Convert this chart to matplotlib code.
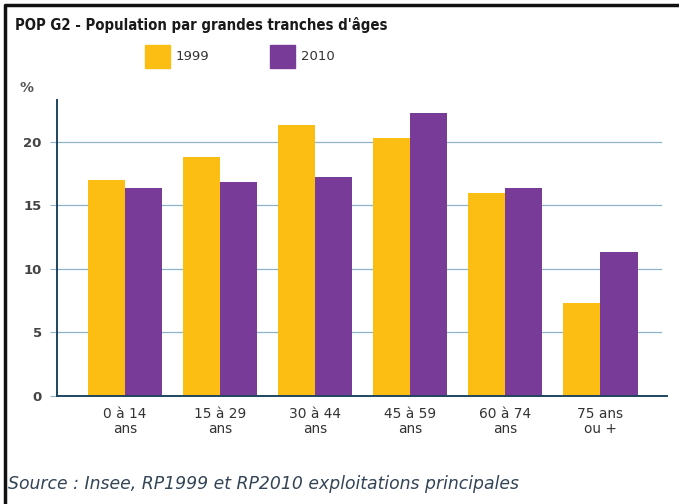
import numpy as np
import matplotlib.pyplot as plt
from matplotlib.lines import Line2D
from matplotlib.patches import Rectangle

categories = ['0 à 14\nans', '15 à 29\nans', '30 à 44\nans', '45 à 59\nans', '60 à 74\nans', '75 ans\nou +']
pop_1999 = [17.0, 18.8, 21.3, 20.3, 16.0, 7.3]
pop_2010 = [16.4, 16.85, 17.2, 22.3, 16.4, 11.3]
years = ['1999', '2010']
yticks = [0, 5, 10, 15, 20]

c_1999 = '#FDBE14'
c_2010 = '#783C98'
grid_c = '#8DB4C8'
axis_c = '#1E4560'

W, H = 679, 504
fig = plt.figure(figsize=(W / 100, H / 100), dpi=100)

# axes placed in pixel terms: x 57..667, y 100..396
ax = fig.add_axes([57 / W, 1 - 396 / H, (667 - 57) / W, (396 - 100) / H])

x = np.arange(len(categories))
bw = 0.39
ax.bar(x - bw / 2, pop_1999, bw, color=c_1999, zorder=2)
ax.bar(x + bw / 2, pop_2010, bw, color=c_2010, zorder=2)

ax.set_xlim(-0.716, 5.70)
ax.set_ylim(0, 23.3)
ax.set_yticks(yticks)
ax.set_yticklabels([str(v) for v in yticks], fontsize=9.5, fontweight='bold', color='#444444')
ax.set_xticks(x)
ax.set_xticklabels(categories, fontsize=9.9, color='#333333', linespacing=1.05)
ax.tick_params(axis='x', length=0, pad=8)
ax.tick_params(axis='y', length=5, width=0.8, color=grid_c, pad=6)

for v in yticks[1:]:
    ax.axhline(v, xmin=0, xmax=0.99, color=grid_c, lw=0.9, zorder=1)

for s in ['top', 'right']:
    ax.spines[s].set_visible(False)
ax.spines['left'].set_color(axis_c)
ax.spines['left'].set_linewidth(1.4)
ax.spines['bottom'].set_color(axis_c)
ax.spines['bottom'].set_linewidth(1.4)

fig.text(15 / W, 1 - 25 / H, 'POP G2 - Population par grandes tranches d\'âges',
         fontsize=10.7, fontweight='bold', fontstretch='condensed', color='#1a1a1a',
         va='center', ha='left')

# legend
for i, (lab, c) in enumerate(zip(years, [c_1999, c_2010])):
    x0 = 145 + i * 125
    fig.patches.append(Rectangle((x0 / W, 1 - 68 / H), 25 / W, 23 / H,
                                 transform=fig.transFigure, color=c))
    fig.text((x0 + 31) / W, 1 - 57 / H, lab, fontsize=9.5, color='#333333',
             va='center', ha='left')

fig.text(20 / W, 1 - 88 / H, '%', fontsize=10, fontweight='bold', color='#555555',
         va='center', ha='left')

fig.text(8 / W, 1 - 484 / H, 'Source : Insee, RP1999 et RP2010 exploitations principales',
         fontsize=12.4, fontstyle='italic', color='#334455', va='center', ha='left')

# frame: top and left edges only
fig.lines.append(Line2D([5 / W, 5 / W, 1], [0, 1 - 5 / H, 1 - 5 / H],
                        transform=fig.transFigure, color='#111111', lw=2.5))

fig.savefig('out.png', dpi=100)
